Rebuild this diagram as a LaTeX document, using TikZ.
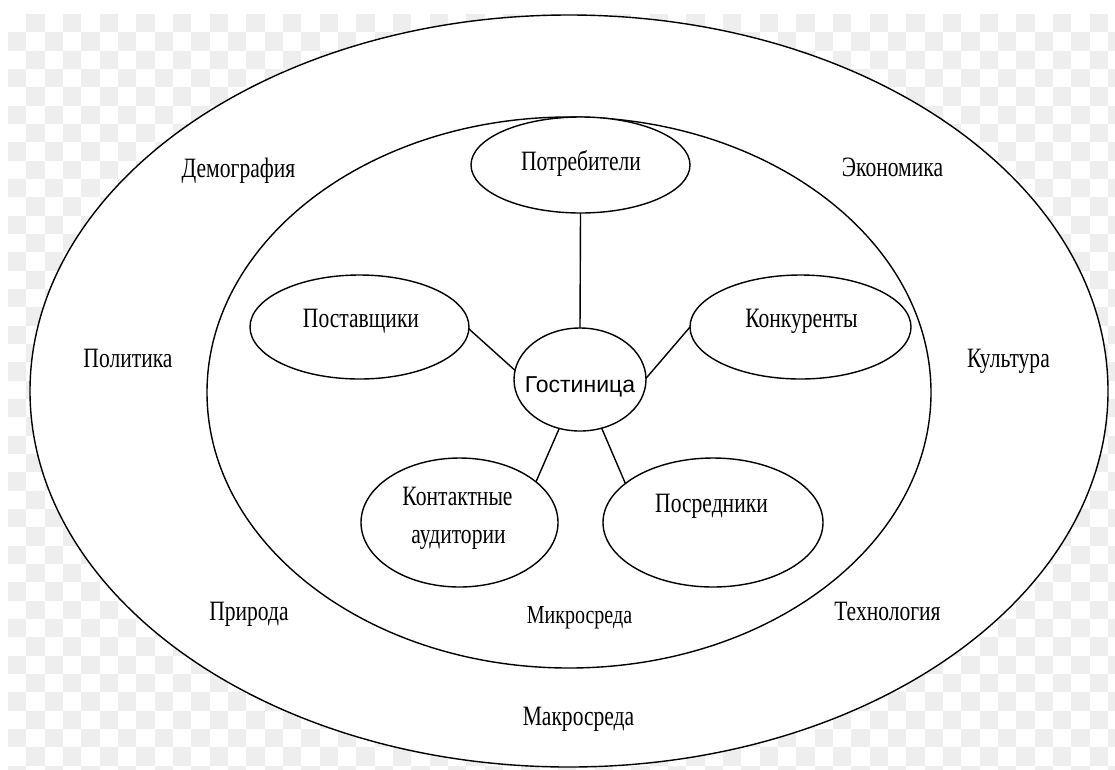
\documentclass[tikz,border=0pt]{standalone}
\usepackage{fontspec}
\setmainfont{Liberation Serif}[FakeStretch=0.77]
\newfontfamily\gostfont{Liberation Sans}
\usetikzlibrary{shapes.geometric}
\definecolor{checkgray}{HTML}{EEEEEE}
\begin{document}
\begin{tikzpicture}[x=1pt,y=-1pt,
  line/.style={line width=1.4pt, black},
  env/.style={draw, line width=1.4pt, ellipse, inner sep=0pt, outer sep=0pt, fill=white},
  lbl/.style={font=\fontsize{28}{30}\selectfont, anchor=base, inner sep=0pt},
  lblsmall/.style={font=\fontsize{26}{28}\selectfont, anchor=base, inner sep=0pt},
  gostlbl/.style={font=\gostfont\fontsize{23}{25}\selectfont, anchor=base, inner sep=0pt},
]
\useasboundingbox (0,0) rectangle (1115,769);
\fill[white] (0,0) rectangle (1115,769);
% transparency checkerboard
\begin{scope}
\clip (8,14) rectangle (1115,769);
\foreach \j in {0,...,41} {
  \pgfmathsetmacro\ph{mod(\j+1,2)*18.333}
  \draw[checkgray, line width=18.333pt, dash pattern=on 18.333pt off 18.333pt, dash phase=\ph pt]
    (8,{14+\j*18.333+9.1665}) -- (1120,{14+\j*18.333+9.1665});
}
\end{scope}

% environments
\node[env, minimum width=1078pt, minimum height=752pt] (macro) at (569,391) {};
\node[env, minimum width=724pt, minimum height=551pt] (micro) at (569,392.5) {};

% actors
\node[env, minimum width=219pt, minimum height=96pt] (potr) at (580.5,165) {};
\node[env, minimum width=132pt, minimum height=103pt] (gost) at (580,379.5) {};
\node[env, minimum width=219pt, minimum height=104pt] (post) at (359.5,327) {};
\node[env, minimum width=221pt, minimum height=104pt] (konk) at (800.5,327) {};
\node[env, minimum width=197pt, minimum height=129pt] (kont) at (459.5,522.5) {};
\node[env, minimum width=220pt, minimum height=129pt] (posr) at (713,522.5) {};

% connectors
\draw[line] (potr.south) -- (gost.north);
\draw[line] (post.-1) -- (gost.172);
\draw[line] (konk.180) -- (gost.1);
\draw[line] (kont.28) -- (gost.247);
\draw[line] (posr.156) -- (gost.294);

% actor labels
\node[lbl] (tpotr) at (581,170.5) {Потребители};
\node[lbl] (tpost) at (361,327) {Поставщики};
\node[lbl] (tkonk) at (801.5,327) {Конкуренты};
\node[lbl] (tkont1) at (457.5,505.5) {Контактные};
\node[lbl] (tkont2) at (458.5,543) {аудитории};
\node[lbl] (tposr) at (711.5,512) {Посредники};
\node[gostlbl] (tgost) at (580,392.5) {Гостиница};

% environment labels
\node[lblsmall] (tmicro) at (579.5,623) {Микросреда};
\node[lbl] (tmacro) at (578.5,725) {Макросреда};
\node[lbl] (tdem) at (238.5,177) {Демография};
\node[lbl] (tekon) at (892.5,176) {Экономика};
\node[lbl] (tpol) at (128,367.5) {Политика};
\node[lbl] (tkult) at (1008.5,367.5) {Культура};
\node[lbl] (tpri) at (249,620.5) {Природа};
\node[lbl] (ttech) at (887.5,620.5) {Технология};
\end{tikzpicture}
\end{document}
